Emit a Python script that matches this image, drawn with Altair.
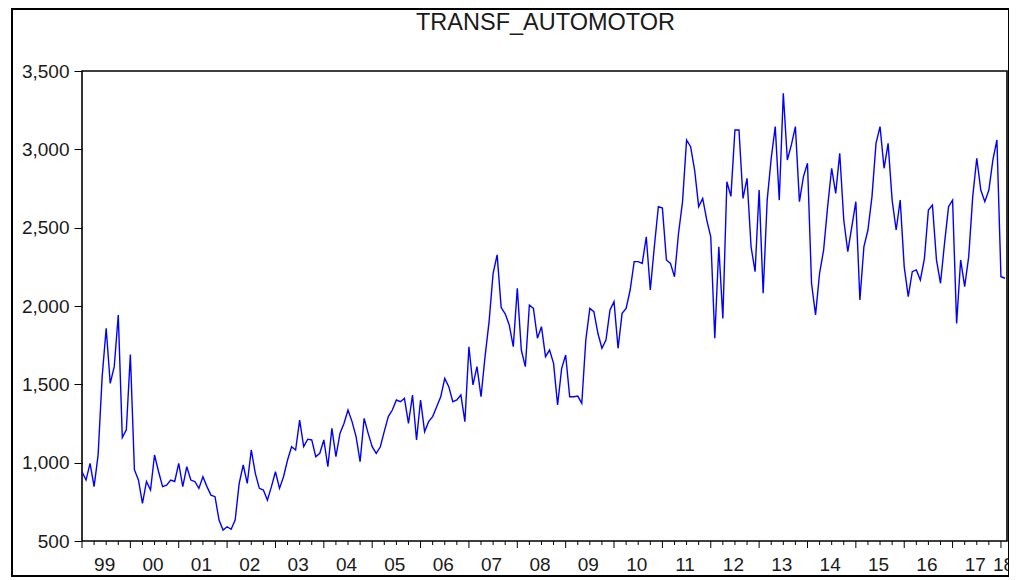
import altair as alt
import pandas as pd

title_text = "TRANSF_AUTOMOTOR"
start_year = 1999

# monthly values 1999M01 .. 2018M02
values = [
    942, 889, 996, 847, 1050, 1549, 1858, 1506, 1613, 1943,
    1160, 1210, 1690, 955, 890, 740, 880, 825, 1049, 942,
    847, 857, 889, 880, 996, 847, 974, 889, 880, 836,
    910, 847, 793, 783, 634, 570, 591, 575,
    634, 868, 985, 868, 1081, 932, 836, 825, 761, 847,
    942, 836, 910, 1017, 1102, 1081, 1272, 1102, 1150, 1145,
    1038, 1060, 1145, 974, 1219, 1038, 1187, 1250, 1336, 1262,
    1166, 1006, 1283, 1187, 1102, 1059, 1100,
    1200, 1294, 1336, 1400, 1389, 1410, 1251, 1432, 1145, 1400,
    1198, 1262, 1294, 1357, 1420, 1538, 1485, 1389, 1400, 1432,
    1262, 1740, 1496, 1613, 1421, 1677, 1900, 2209, 2326, 1990,
    1950, 1879, 1740, 2113, 1719, 1613, 2006, 1985,
    1794, 1868, 1677, 1719, 1634, 1368, 1600, 1687, 1421, 1421,
    1425, 1379, 1783, 1985, 1964, 1826, 1730, 1783, 1974, 2028,
    1730, 1953, 1985, 2102, 2283, 2283, 2272, 2442, 2102, 2378,
    2634, 2625, 2294, 2272, 2187, 2463, 2666,
    3060, 3017, 2868, 2634, 2687, 2550, 2442, 1794, 2378, 1921,
    2793, 2700, 3123, 3123, 2687, 2815, 2378, 2219, 2740, 2081,
    2676, 2943, 3145, 2676, 3358, 2932, 3028, 3145, 2666, 2826,
    2911, 2145, 1943, 2209, 2357, 2634, 2879, 2719, 2975,
    2549, 2347, 2506, 2666, 2038, 2379, 2485, 2698, 3038, 3145,
    2879, 3038, 2676, 2485, 2676, 2250, 2060, 2219, 2230, 2166,
    2300, 2613, 2645, 2294, 2145, 2400, 2634, 2676, 1889, 2294,
    2124, 2315, 2700, 2943, 2740, 2666, 2740, 2932, 3060, 2187,
    2177,
]
year_labels = ["99", "00", "01", "02", "03", "04", "05", "06", "07", "08",
               "09", "10", "11", "12", "13", "14", "15", "16", "17", "18"]
y_ticks = [500, 1000, 1500, 2000, 2500, 3000, 3500]

n = len(values)
df = pd.DataFrame({"t": list(range(n)), "v": values})
df["year"] = [start_year + i // 12 for i in range(n)]

# label of each year sits in the middle of that year's observations
lab = df.groupby("year")["t"].mean().reset_index()
label_pos = [float(p) for p in lab["t"]]
label_array = "[" + ",".join("'%s'" % l for l in year_labels) + "]"

major = pd.DataFrame({"t": [i for i in range(n) if i % 12 == 0]})
minor = pd.DataFrame({"t": [i for i in range(n) if i % 3 == 0 and i % 12 != 0]})

W, H = 925, 470
FONT = "Liberation Sans, Arial, sans-serif"
TXT = "#1a1a1a"

x_scale = alt.Scale(domain=[0, n - 0.5], nice=False, zero=False)
y_scale = alt.Scale(domain=[500, 3500], nice=False, zero=False)

x_axis = alt.Axis(values=label_pos, labelExpr=label_array + "[floor(datum.value / 12)]",
                  ticks=False, domain=False, grid=False, title=None,
                  labelPadding=14, labelFontSize=19, labelFont=FONT,
                  labelColor=TXT, labelOverlap=False, labelFlush=False)

line = alt.Chart(df).mark_line(color="#0000FF", strokeWidth=1.4).encode(
    x=alt.X("t:Q", scale=x_scale, axis=x_axis),
    y=alt.Y("v:Q", scale=y_scale,
            axis=alt.Axis(values=y_ticks, format=",d", tickSize=8, tickColor="black",
                          tickWidth=1, domain=False, grid=False, title=None,
                          labelPadding=5, labelFontSize=19, labelFont=FONT,
                          labelColor=TXT)),
)

major_ticks = alt.Chart(major).mark_rule(color="black", strokeWidth=1).encode(
    x=alt.X("t:Q", scale=x_scale, axis=x_axis),
    y=alt.value(H), y2=alt.value(H + 7),
)
minor_ticks = alt.Chart(minor).mark_rule(color="black", strokeWidth=1).encode(
    x=alt.X("t:Q", scale=x_scale, axis=x_axis),
    y=alt.value(H), y2=alt.value(H + 4),
)

title = alt.Chart(pd.DataFrame({"label": [title_text]})).mark_text(
    font=FONT, fontSize=23.5, color=TXT, align="center", baseline="alphabetic"
).encode(
    x=alt.value(W / 2 + 1), y=alt.value(-41), text="label:N"
)

frame = alt.Chart(pd.DataFrame({"a": [0]})).mark_rect(
    filled=False, stroke="black", strokeWidth=2
).encode(
    x=alt.value(-70), x2=alt.value(W + 2), y=alt.value(-62), y2=alt.value(H + 35)
)

chart = alt.layer(frame, title, line, major_ticks, minor_ticks).properties(
    width=W, height=H,
    autosize=alt.AutoSizeParams(type="none"),
    padding={"left": 74, "top": 63, "right": 2, "bottom": 38},
).configure_view(stroke="black", strokeWidth=1.6)

chart.save("out.html", embed_options={"renderer": "svg", "actions": False})
